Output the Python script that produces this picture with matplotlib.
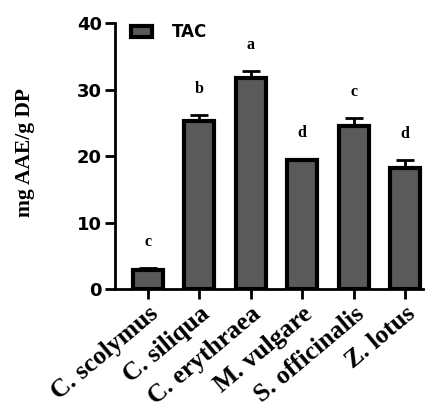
import matplotlib.pyplot as plt
import numpy as np

# dữ liệu TAC
species = ['C. scolymus', 'C. siliqua', 'C. erythraea', 'M. vulgare', 'S. officinalis', 'Z. lotus']
tac = [2.8, 25.2, 31.7, 19.4, 24.5, 18.2]
tac_err = [0.3, 1.0, 1.1, 0.1, 1.2, 1.2]
letters = ['c', 'b', 'a', 'd', 'c', 'd']

fig = plt.figure(figsize=(4.34, 4.12), dpi=100)
ax = fig.add_axes([0.265, 0.2985, 0.71, 0.6455])

x = np.arange(len(species))
ax.bar(x, tac, width=0.58, color='#5a5a5a', edgecolor='black', linewidth=3, label='TAC', zorder=2)
ax.errorbar(x, tac, yerr=[np.zeros(len(tac)), tac_err], fmt='none', ecolor='black',
            elinewidth=2, capsize=6.5, capthick=2, zorder=1)

for xi, v, e, l in zip(x, tac, tac_err, letters):
    ax.annotate(l, (xi, v + e), xytext=(0, 13), textcoords='offset points', ha='center', va='bottom',
                fontsize=11.5, fontweight='bold', family='Liberation Serif')

ax.set_xlim(-0.64, 5.35)
ax.set_ylim(0, 40)
ax.set_yticks([0, 10, 20, 30, 40])
ax.set_xticks(x)
ax.set_xticklabels(species, rotation=40, ha='right', rotation_mode='anchor',
                   fontsize=18.5, fontweight='bold', family='Liberation Serif')
for t in ax.get_yticklabels():
    t.set_fontsize(13)
    t.set_fontweight('bold')
    t.set_family('DejaVu Sans')

ax.set_ylabel('mg AAE/g DP', fontsize=15.5, fontweight='bold', family='Liberation Serif')
ax.yaxis.set_label_coords(-0.26, 0.515)
ax.spines['top'].set_visible(False)
ax.spines['right'].set_visible(False)
ax.spines['left'].set_linewidth(2)
ax.spines['bottom'].set_linewidth(2)
ax.tick_params(width=2, length=7.5, pad=2)

leg = ax.legend(loc='upper left', bbox_to_anchor=(0.003, 1.055), frameon=False, handlelength=1.25,
                handleheight=0.6, handletextpad=1.2,
                prop={'family': 'DejaVu Sans', 'weight': 'bold', 'size': 12})

plt.savefig('out.png', dpi=100)
